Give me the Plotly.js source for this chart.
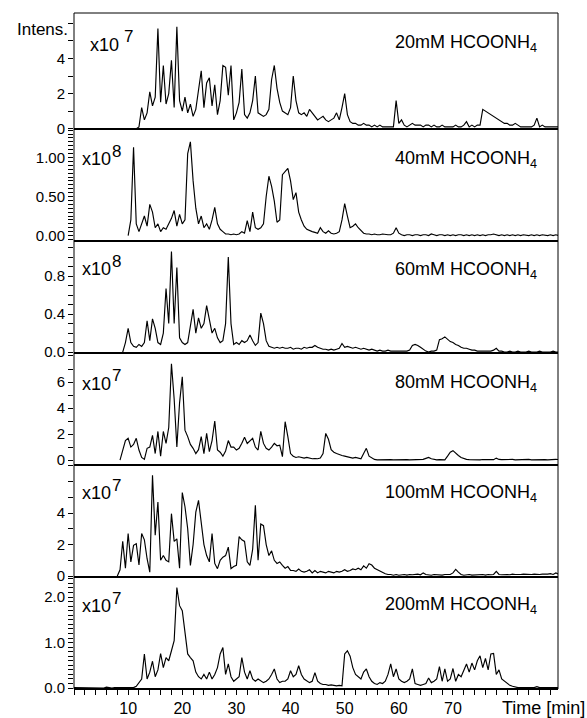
<!DOCTYPE html>
<html><head><meta charset="utf-8">
<script src="https://cdn.plot.ly/plotly-3.0.1.min.js"></script>
<style>html,body{margin:0;padding:0;background:#fff}#chart{width:587px;height:718px}</style>
</head><body><div id="chart"></div>
<script>
// ---------------- DATA ----------------
const timeMin = [
 0,0.5,1,1.5,2,2.5,3,3.5,4,4.5,
 5,5.5,6,6.5,7,7.5,8,8.5,9,9.5,
 10,10.5,11,11.5,12,12.5,13,13.5,14,14.5,
 15,15.5,16,16.5,17,17.5,18,18.5,19,19.5,
 20,20.5,21,21.5,22,22.5,23,23.5,24,24.5,
 25,25.5,26,26.5,27,27.5,28,28.5,29,29.5,
 30,30.5,31,31.5,32,32.5,33,33.5,34,34.5,
 35,35.5,36,36.5,37,37.5,38,38.5,39,39.5,
 40,40.5,41,41.5,42,42.5,43,43.5,44,44.5,
 45,45.5,46,46.5,47,47.5,48,48.5,49,49.5,
 50,50.5,51,51.5,52,52.5,53,53.5,54,54.5,
 55,55.5,56,56.5,57,57.5,58,58.5,59,59.5,
 60,60.5,61,61.5,62,62.5,63,63.5,64,64.5,
 65,65.5,66,66.5,67,67.5,68,68.5,69,69.5,
 70,70.5,71,71.5,72,72.5,73,73.5,74,74.5,
 75,75.5,76,76.5,77,77.5,78,78.5,79,79.5,
 80,80.5,81,81.5,82,82.5,83,83.5,84,84.5,
 85,85.5,86,86.5,87,87.5,88,88.5,89,89.5
];

// Intensity, 20 mM (x10^7)
const int20mM = [
 null,null,null,null,null,null,null,null,null,null,
 null,null,null,null,null,null,null,null,null,null,
 null,null,null,0.0,0.1,1.2,0.5,0.9,2.1,1.3,
 1.8,5.7,1.5,3.6,1.4,2.0,3.9,1.2,5.8,1.6,
 1.0,1.8,0.9,1.4,0.7,1.1,2.2,3.3,1.2,2.6,
 2.9,1.3,2.5,0.8,1.6,3.6,3.5,1.9,3.6,0.5,
 0.9,1.5,3.4,0.8,0.6,0.9,1.6,3.0,0.9,0.8,
 0.7,0.8,1.1,2.8,3.6,2.3,1.5,1.0,0.9,0.8,
 1.2,3.0,1.6,0.9,0.8,0.9,0.7,1.1,0.9,0.7,
 0.5,0.6,0.7,0.5,0.4,0.5,0.6,0.9,0.5,1.2,
 2.0,0.8,0.4,0.3,0.3,0.2,0.2,0.3,0.2,0.2,
 0.1,0.2,0.1,0.2,0.1,0.1,0.1,0.1,0.1,1.6,
 0.3,0.5,0.2,0.1,0.2,0.3,0.2,0.2,0.2,0.1,
 0.2,0.2,0.1,0.2,0.1,0.1,0.2,0.1,0.1,0.1,
 0.1,0.2,0.1,0.1,0.2,0.4,0.1,0.2,0.1,0.2,
 0.2,1.1,1.0,0.9,0.8,0.7,0.6,0.5,0.4,0.3,
 0.3,0.2,0.2,0.3,0.2,0.1,0.1,0.1,0.1,0.1,
 0.2,0.6,0.1,0.2,0.1,0.1,0.1,0.1,0.1,0.1
];

// Intensity, 40 mM (x10^8)
const int40mM = [
 null,null,null,null,null,null,null,null,null,null,
 null,null,null,null,null,null,null,null,null,null,
 0.0,0.2,1.13,0.15,0.05,0.15,0.25,0.12,0.4,0.3,
 0.1,0.15,0.05,0.1,0.08,0.15,0.22,0.32,0.12,0.27,
 0.15,0.2,1.05,1.2,0.7,0.35,0.15,0.25,0.1,0.15,
 0.08,0.2,0.36,0.15,0.08,0.05,0.02,0.02,0.01,0.02,
 0.01,0.02,0.05,0.03,0.19,0.05,0.3,0.1,0.08,0.1,
 0.15,0.5,0.76,0.63,0.44,0.17,0.2,0.78,0.82,0.86,
 0.7,0.46,0.55,0.3,0.2,0.12,0.08,0.06,0.05,0.04,
 0.03,0.1,0.05,0.03,0.06,0.03,0.02,0.03,0.05,0.2,
 0.41,0.25,0.1,0.12,0.15,0.1,0.06,0.03,0.02,0.02,
 0.01,0.02,0.01,0.01,0.02,0.01,0.01,0.01,0.03,0.1,
 0.03,0.01,0.0,0.01,0.01,0.0,0.01,0.01,0.0,0.01,
 0.01,0.0,0.02,0.01,0.0,0.01,0.01,0.0,0.01,0.0,
 0.01,0.0,0.01,0.01,0.0,0.01,0.0,0.01,0.0,0.01,
 0.0,0.01,0.0,0.01,0.01,0.02,0.01,0.0,0.01,0.0,
 0.01,0.0,0.01,0.0,0.01,0.0,0.01,0.0,0.0,0.01,
 0.0,0.01,0.0,0.01,0.0,0.0,0.01,0.0,0.01,0.0
];

// Intensity, 60 mM (x10^8)
const int60mM = [
 null,null,null,null,null,null,null,null,null,null,
 null,null,null,null,null,null,null,null,0.0,0.1,
 0.25,0.1,0.06,0.05,0.08,0.06,0.1,0.33,0.12,0.35,
 0.25,0.1,0.08,0.2,0.67,0.3,1.06,0.3,0.89,0.15,
 0.1,0.08,0.1,0.3,0.45,0.2,0.36,0.25,0.3,0.49,
 0.35,0.2,0.25,0.15,0.1,0.12,0.3,1.0,0.3,0.08,
 0.1,0.08,0.12,0.1,0.12,0.18,0.12,0.07,0.1,0.41,
 0.3,0.12,0.06,0.05,0.04,0.05,0.04,0.05,0.04,0.04,
 0.05,0.03,0.04,0.04,0.03,0.05,0.04,0.05,0.05,0.07,
 0.05,0.04,0.03,0.03,0.02,0.03,0.02,0.03,0.04,0.09,
 0.05,0.06,0.05,0.04,0.05,0.04,0.03,0.04,0.03,0.02,
 0.03,0.02,0.01,0.02,0.01,0.01,0.02,0.01,0.01,0.01,
 0.01,0.01,0.01,0.01,0.02,0.07,0.08,0.07,0.05,0.03,
 0.01,0.0,0.01,0.01,0.02,0.13,0.14,0.16,0.13,0.11,
 0.1,0.08,0.07,0.05,0.04,0.04,0.03,0.02,0.02,0.01,
 0.01,0.01,0.01,0.01,0.01,0.02,0.04,0.01,0.01,0.0,
 0.0,0.01,0.0,0.0,0.01,0.0,0.0,0.0,0.01,0.0,
 0.0,0.0,0.01,0.0,0.0,0.0,0.0,0.01,0.0,0.0
];

// Intensity, 80 mM (x10^7)
const int80mM = [
 null,null,null,null,null,null,null,null,null,null,
 null,null,null,null,null,null,null,0.0,0.8,1.5,
 1.67,1.0,1.2,1.67,0.77,0.2,0.05,0.9,1.0,1.9,
 0.5,2.2,0.3,2.2,1.28,2.5,7.4,4.7,1.0,4.4,
 6.4,2.3,1.8,1.2,0.9,0.5,0.8,1.8,0.5,2.05,
 0.64,1.5,3.0,0.77,0.6,0.3,0.7,1.5,1.0,1.0,
 0.77,0.9,1.3,1.75,1.28,1.5,1.67,1.0,0.77,2.2,
 1.28,0.9,0.77,1.0,1.28,1.1,1.15,0.26,2.95,1.8,
 0.5,0.3,0.2,0.25,0.2,0.15,0.2,0.15,0.1,0.12,
 0.1,0.15,0.5,2.05,1.6,0.8,0.6,0.5,0.4,0.35,
 0.3,0.25,0.2,0.15,0.2,0.15,0.1,0.5,0.9,0.3,
 0.15,0.05,0.02,0.03,0.02,0.04,0.02,0.03,0.02,0.03,
 0.02,0.04,0.02,0.03,0.02,0.03,0.04,0.02,0.03,0.05,
 0.13,0.2,0.1,0.05,0.02,0.03,0.05,0.02,0.3,0.6,
 0.72,0.5,0.35,0.2,0.1,0.05,0.03,0.02,0.04,0.03,
 0.02,0.04,0.03,0.02,0.04,0.03,0.15,0.05,0.03,0.04,
 0.02,0.03,0.05,0.02,0.03,0.04,0.02,0.03,0.05,0.02,
 0.03,0.04,0.02,0.05,0.03,0.02,0.04,0.03,0.05,0.04
];

// Intensity, 100 mM (x10^7)
const int100mM = [
 null,null,null,null,null,null,null,null,null,null,
 null,null,null,null,null,null,0.0,0.4,2.2,0.5,
 2.7,0.9,1.95,2.05,0.7,2.7,2.3,1.1,0.25,6.4,
 2.6,4.7,1.0,1.3,1.0,0.9,3.96,2.2,2.36,0.5,
 5.3,4.4,3.0,0.68,2.0,4.06,4.8,3.4,2.0,1.3,
 0.9,2.7,0.8,0.47,1.0,1.2,1.3,1.84,0.47,0.6,
 0.68,2.5,2.3,2.2,0.9,0.68,1.7,4.5,1.0,3.3,
 3.2,2.0,1.3,1.6,1.0,0.8,0.9,0.68,0.5,0.6,
 0.36,0.35,0.3,0.45,0.3,0.25,0.3,0.4,0.2,0.35,
 0.2,0.3,0.25,0.2,0.3,0.25,0.2,0.3,0.25,0.3,
 0.4,0.3,0.35,0.45,0.4,0.5,0.4,0.65,0.5,0.78,
 0.7,0.5,0.4,0.3,0.2,0.15,0.1,0.1,0.05,0.1,
 0.05,0.08,0.1,0.06,0.1,0.08,0.1,0.12,0.08,0.2,
 0.1,0.08,0.05,0.1,0.08,0.1,0.06,0.1,0.08,0.1,
 0.2,0.42,0.25,0.1,0.05,0.08,0.1,0.06,0.08,0.1,
 0.08,0.1,0.06,0.1,0.08,0.1,0.3,0.1,0.08,0.1,
 0.1,0.08,0.12,0.1,0.08,0.1,0.12,0.1,0.08,0.1,
 0.12,0.1,0.1,0.12,0.1,0.12,0.15,0.1,0.2,0.12
];

// Intensity, 200 mM (x10^7)
const int200mM = [
 0.01,0.01,0.0,0.01,0.01,0.0,0.01,0.01,0.0,0.01,
 0.01,0.0,0.02,0.01,0.0,0.01,0.01,0.0,0.01,0.01,
 0.0,0.01,0.01,0.04,0.12,0.2,0.75,0.2,0.35,0.59,
 0.25,0.4,0.76,0.45,0.67,0.6,0.82,1.04,2.21,1.81,
 1.7,1.26,0.75,0.67,0.6,0.35,0.25,0.2,0.3,0.2,
 0.35,0.2,0.3,0.45,0.75,0.89,0.3,0.53,0.25,0.15,
 0.2,0.25,0.67,0.35,0.2,0.38,0.2,0.15,0.2,0.15,
 0.12,0.15,0.2,0.3,0.42,0.2,0.12,0.15,0.15,0.2,
 0.38,0.25,0.3,0.49,0.3,0.2,0.15,0.12,0.15,0.34,
 0.15,0.1,0.08,0.08,0.06,0.07,0.06,0.05,0.06,0.05,
 0.75,0.82,0.7,0.45,0.3,0.25,0.2,0.35,0.42,0.25,
 0.15,0.1,0.08,0.12,0.1,0.15,0.3,0.53,0.25,0.42,
 0.2,0.15,0.12,0.15,0.2,0.42,0.1,0.08,0.06,0.08,
 0.1,0.22,0.12,0.15,0.2,0.47,0.15,0.42,0.15,0.2,
 0.43,0.15,0.3,0.25,0.4,0.53,0.35,0.55,0.4,0.6,
 0.71,0.45,0.65,0.4,0.75,0.76,0.3,0.4,0.2,0.15,
 0.1,0.06,0.04,0.02,0.01,0.01,0.01,0.01,0.01,0.01,
 0.01,0.03,0.01,0.01,0.01,0.01,0.01,0.01,0.01,0.01
];

const seriesList = [int20mM, int40mM, int60mM, int80mM, int100mM, int200mM];
const panelLabels = [
 '20mM HCOONH<sub>4</sub>', '40mM HCOONH<sub>4</sub>', '60mM HCOONH<sub>4</sub>',
 '80mM HCOONH<sub>4</sub>', '100mM HCOONH<sub>4</sub>', '200mM HCOONH<sub>4</sub>'
];
const panelExponentBase = ['x10', 'x10', 'x10', 'x10', 'x10', 'x10'];
const panelExponentPower = ['7', '8', '8', '7', '7', '7'];
const yTickVals = [[0,2,4],[0,0.5,1],[0,0.4,0.8],[0,2,4,6],[0,2,4],[0,1,2]];
const yTickText = [['0','2','4'],['0.00','0.50','1.00'],['0.0','0.4','0.8'],['0','2','4','6'],['0','2','4'],['0.0','1.0','2.0']];
const xTickVals = [10,20,30,40,50,60,70];
const xTickText = ['10','20','30','40','50','60','70'];
const xAxisTitle = 'Time [min]';
const yAxisTitle = 'Intens.';

// ---------------- LAYOUT / STYLE ----------------
const FONT = '"Liberation Sans", Arial, Helvetica, sans-serif';
const W = 587, H = 718, ML = 74, MR = 29, MT = 13, MB = 29;
const plotW = W - ML - MR, plotH = H - MT - MB;
const panelEdgesPx = [13, 129, 241, 353, 465, 577, 689];
const py = px => (H - MB - px) / plotH;
const px2x = px => (px - ML) / plotW;
const yRanges = [[-0.02, 6.59], [-0.07, 1.365], [-0.01, 1.17], [-0.38, 8.23], [-0.06, 7.05], [-0.02, 2.44]];
const yMinorStep = [1, 0.05, 0.1, 1, 1, 0.1];
const expLeftPx = [88, 80, 80, 80, 80, 80];
const powLeftPx = [122, 110, 110, 110, 110, 110];
const expOffsetPx = [32, 30, 28, 31, 28, 29];
const powOffsetPx = [24, 22, 20, 22, 20, 21];
const labOffsetPx = [31, 30, 30, 30, 28, 28];

const traces = seriesList.map((s, k) => ({
  type: 'scatter', mode: 'lines', x: timeMin, y: s,
  xaxis: 'x', yaxis: k === 0 ? 'y' : 'y' + (k + 1),
  line: { color: '#000', width: 1.15 }, connectgaps: false,
  hoverinfo: 'skip', showlegend: false
}));

const layout = {
  width: W, height: H, autosize: false,
  margin: { l: ML, r: MR, t: MT, b: MB, pad: 0 },
  paper_bgcolor: '#fff', plot_bgcolor: '#fff',
  font: { family: FONT, color: '#000', size: 15 },
  showlegend: false,
  xaxis: {
    domain: [0, 1], range: [0, 89.4], anchor: 'y6',
    tickmode: 'array', tickvals: xTickVals, ticktext: xTickText,
    ticks: 'outside', ticklen: 5, tickwidth: 1, tickcolor: '#000',
    minor: { tickmode: 'linear', tick0: 0, dtick: 2, ticks: 'outside', ticklen: 5, tickwidth: 1, tickcolor: '#000' },
    showgrid: false, zeroline: false, showline: false,
    tickfont: { size: 16, family: FONT, color: '#000' }
  },
  shapes: [], annotations: []
};

for (let k = 0; k < 6; k++) {
  const key = k === 0 ? 'yaxis' : 'yaxis' + (k + 1);
  const topPx = panelEdgesPx[k], botPx = panelEdgesPx[k + 1];
  layout[key] = {
    domain: [py(botPx), py(topPx)], range: yRanges[k], anchor: 'x',
    tickmode: 'array', tickvals: yTickVals[k], ticktext: yTickText[k],
    ticks: 'outside', ticklen: 5, tickwidth: 1, tickcolor: '#000',
    minor: { tickmode: 'linear', tick0: 0, dtick: yMinorStep[k], ticks: 'outside', ticklen: 5, tickwidth: 1, tickcolor: '#000' },
    showgrid: false, zeroline: false, showline: false,
    tickfont: { size: 15, family: FONT, color: '#000' }
  };
  layout.annotations.push({
    xref: 'paper', yref: 'paper', x: px2x(expLeftPx[k]), y: py(topPx + expOffsetPx[k]),
    xanchor: 'left', yanchor: 'middle', showarrow: false,
    text: panelExponentBase[k], font: { size: 18, family: FONT, color: '#000' }
  });
  layout.annotations.push({
    xref: 'paper', yref: 'paper', x: px2x(powLeftPx[k]), y: py(topPx + powOffsetPx[k]),
    xanchor: 'left', yanchor: 'middle', showarrow: false,
    text: panelExponentPower[k], font: { size: 17, family: FONT, color: '#000' }
  });
  layout.annotations.push({
    xref: 'paper', yref: 'paper', x: px2x(539), y: py(topPx + labOffsetPx[k]),
    xanchor: 'right', yanchor: 'middle', showarrow: false,
    text: panelLabels[k], font: { size: 18, family: FONT, color: '#000' }
  });
  if (k < 5) {
    layout.shapes.push({ type: 'line', xref: 'paper', yref: 'paper', x0: 0, x1: 1,
      y0: py(botPx), y1: py(botPx), line: { color: '#000', width: 2 } });
  }
}
layout.shapes.push({ type: 'rect', xref: 'paper', yref: 'paper', x0: 0, x1: 1, y0: 0, y1: 1,
  line: { color: '#000', width: 1 } });
layout.shapes.push({ type: 'line', xref: 'paper', yref: 'paper', x0: 0, x1: 1, y0: 0, y1: 0,
  line: { color: '#000', width: 2 } });

layout.annotations.push({
  xref: 'paper', yref: 'paper', x: px2x(70), y: py(29), xanchor: 'right', yanchor: 'middle',
  showarrow: false, text: yAxisTitle, font: { size: 17, family: FONT, color: '#000' }
});
layout.annotations.push({
  xref: 'paper', yref: 'paper', x: px2x(587), y: py(708), xanchor: 'right', yanchor: 'middle',
  showarrow: false, text: xAxisTitle, font: { size: 18, family: FONT, color: '#000' }
});

Plotly.newPlot('chart', traces, layout, { staticPlot: true, displayModeBar: false });
</script>
</body></html>
